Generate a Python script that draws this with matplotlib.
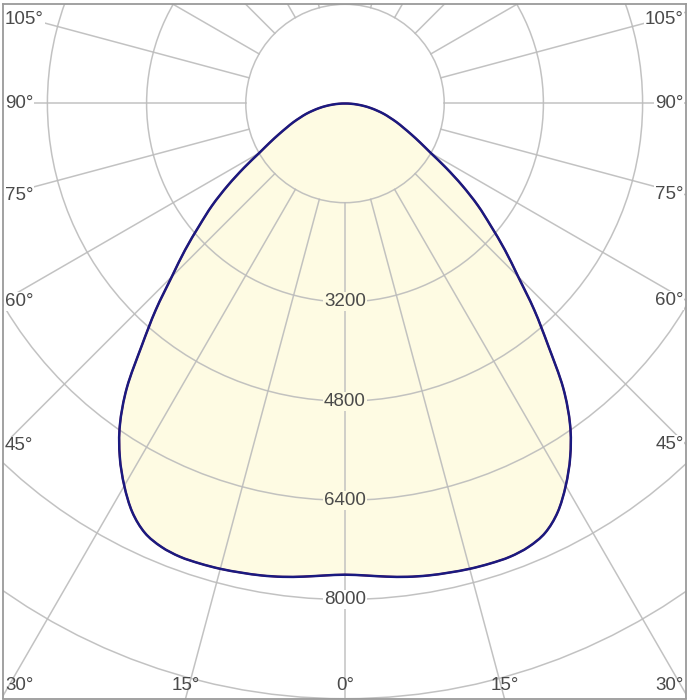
import numpy as np
import matplotlib.pyplot as plt
from matplotlib.patches import Circle, PathPatch
from matplotlib.path import Path

# luminous intensity (cd) vs angle from nadir, symmetric half
angles = [0, 2.5, 5, 7.5, 10, 12.5, 15, 17.5, 20, 22.5, 25, 27.5, 30, 32.5,
          35, 37.5, 40, 42.5, 45, 47.5, 50, 52.5, 55, 57.5, 60, 62.5, 65,
          67.5, 70, 72.5, 75, 77.5, 80, 82.5, 85, 87.5, 90]
c0_c180 = [7600, 7620, 7660, 7700, 7730, 7750, 7770, 7780, 7780, 7740, 7640,
           7430, 7120, 6760, 6330, 5780, 5100, 4520, 3950, 3500, 3070, 2700,
           2310, 1935, 1600, 1370, 1180, 1020, 890, 760, 650, 530, 420, 310,
           200, 100, 0]
c90_c270 = list(c0_c180)

rings = [1600, 3200, 4800, 6400, 8000, 9600, 11200]
ring_labels = [3200, 4800, 6400, 8000]
side_angles = [105, 90, 75, 60, 45]
bottom_angles = [-30, -15, 0, 15, 30]

fill_col = '#fefbe3'
grid_col = '#bcbcbc'
text_col = '#4a4a4a'
plt.rcParams['font.family'] = ['Liberation Sans', 'DejaVu Sans']

fig = plt.figure(figsize=(6.87, 7.0), dpi=100)
ax = fig.add_axes([2.5 / 687, 1.5 / 700, 683.5 / 687, 694.5 / 700])
s = 0.062  # px per cd
x0, x1 = -342.5 / s, 341 / s
y0, y1 = -595 / s, 99.5 / s
ax.set_xlim(x0, x1)
ax.set_ylim(y0, y1)
ax.set_xticks([])
ax.set_yticks([])
for sp in ax.spines.values():
    sp.set_color('#9a9a9a')
    sp.set_linewidth(1.3)


def polar_xy(ang, r):
    t = np.radians(np.asarray(ang, dtype=float))
    r = np.asarray(r, dtype=float)
    return r * np.sin(t), -r * np.cos(t)


def curve_path(vals):
    # closed loop through the data points, drawn as cubic Bezier segments
    a = np.concatenate([-np.array(angles[::-1]), np.array(angles[1:-1])])
    r = np.concatenate([np.array(vals[::-1]), np.array(vals[1:-1])])
    x, y = polar_xy(a, r)
    p = np.column_stack([x, y])
    n = len(p)
    verts = [p[0]]
    codes = [Path.MOVETO]
    for i in range(n):
        pm, p0, p1, p2 = p[i - 1], p[i], p[(i + 1) % n], p[(i + 2) % n]
        verts += [p0 + (p1 - pm) / 6, p1 - (p2 - p0) / 6, p1]
        codes += [Path.CURVE4] * 3
    return Path(verts, codes)


# fill
ax.add_patch(PathPatch(curve_path(c0_c180), fc=fill_col, ec='none', zorder=1))

# grid
for rr in rings:
    ax.add_patch(Circle((0, 0), rr, fill=False, ec=grid_col, lw=1.1,
                        alpha=0.9, zorder=2))
for a in range(0, 360, 15):
    lx, ly = polar_xy([a, a], [rings[0], 14000])
    ax.plot(lx, ly, color=grid_col, lw=1.1, alpha=0.9, zorder=2)

# curves
ax.add_patch(PathPatch(curve_path(c90_c270), fill=False, ec='#c0202a',
                       lw=1.4, zorder=3))
ax.add_patch(PathPatch(curve_path(c0_c180), fill=False, ec='#1a1a80',
                       lw=1.8, zorder=4))

fs = 13.5
for v in ring_labels:
    fc = 'white' if v >= 8000 else fill_col
    ax.text(0, -v, str(v), ha='center', va='center', fontsize=fs,
            color=text_col, zorder=5,
            bbox=dict(boxstyle='square,pad=0.05', fc=fc, ec='none'))

pad = 2.5 / s
top_lim = y1 - 15.5 / s
for a in side_angles:
    t = np.radians(a)
    for sign, xe, ha in [(-1, x0, 'left'), (1, x1, 'right')]:
        ye = -abs(xe) * np.cos(t) / np.sin(t)
        ye = min(ye, top_lim)
        ax.text(xe - sign * pad, ye, f'{a}°', ha=ha, va='center',
                fontsize=fs, color=text_col, zorder=5,
                bbox=dict(boxstyle='square,pad=0.05', fc='white', ec='none'))

yb = y0 + 12.5 / s
for a in bottom_angles:
    xb = -(y0) * np.tan(np.radians(a))
    ha = 'center'
    if xb < x0 + 20 / s:
        xb, ha = x0 + pad, 'left'
    elif xb > x1 - 20 / s:
        xb, ha = x1 - pad, 'right'
    ax.text(xb, yb, f'{abs(a)}°', ha=ha, va='center', fontsize=fs,
            color=text_col, zorder=5)

fig.savefig('out.png', dpi=100)
